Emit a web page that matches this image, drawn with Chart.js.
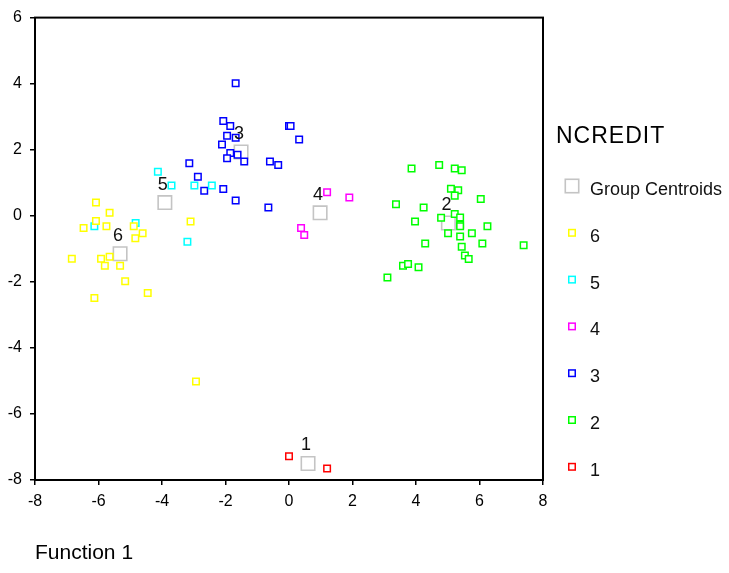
<!DOCTYPE html>
<html>
<head>
<meta charset="utf-8">
<script src="https://cdn.jsdelivr.net/npm/chart.js@4"></script>
<style>
  body { margin: 0; background: #fff; }
</style>
</head>
<body>
<canvas id="chart" width="729" height="573"></canvas>
<script>
// discriminant scores per NCREDIT group: [function 1, function 2]
const group6 = [[-6.08, 0.40], [-5.65, 0.09], [-6.08, -0.16], [-6.47, -0.37], [-5.75, -0.32], [-4.89, -0.32],
  [-4.61, -0.53], [-4.84, -0.68], [-3.10, -0.17], [-6.84, -1.30], [-5.92, -1.30], [-5.65, -1.24],
  [-5.80, -1.51], [-5.32, -1.51], [-5.16, -1.98], [-4.45, -2.34], [-6.13, -2.49], [-2.93, -5.02]];
const group5 = [[-4.13, 1.33], [-3.70, 0.92], [-2.98, 0.92], [-2.43, 0.92], [-4.83, -0.22], [-6.13, -0.32], [-3.20, -0.79]];
const group4 = [[1.20, 0.71], [1.90, 0.55], [0.38, -0.37], [0.48, -0.58]];
const group3 = [[-1.68, 4.01], [-2.07, 2.87], [-1.85, 2.72], [-1.95, 2.42], [-1.68, 2.36], [-2.11, 2.16],
  [-1.85, 1.90], [-1.62, 1.85], [-1.95, 1.74], [-1.41, 1.64], [0.00, 2.72], [0.05, 2.72], [-0.60, 1.64],
  [-0.34, 1.54], [-3.14, 1.59], [-2.87, 1.18], [-2.67, 0.76], [-2.07, 0.81], [-1.68, 0.46], [-0.65, 0.25], [0.32, 2.31]];
const group2 = [[3.86, 1.43], [4.73, 1.54], [5.22, 1.43], [5.44, 1.38], [5.10, 0.82], [5.33, 0.77], [5.22, 0.61],
  [6.04, 0.51], [3.37, 0.35], [4.24, 0.25], [3.97, -0.17], [4.79, -0.06], [5.22, 0.05], [5.39, -0.05],
  [5.39, -0.27], [5.39, -0.32], [6.25, -0.32], [5.01, -0.53], [5.76, -0.53], [5.39, -0.63], [4.29, -0.84],
  [6.09, -0.84], [7.39, -0.89], [5.44, -0.94], [5.54, -1.20], [5.66, -1.31], [3.59, -1.51], [3.75, -1.46],
  [4.08, -1.56], [3.10, -1.87]];
const group1 = [[0.00, -7.28], [1.20, -7.65]];

const centroidLabels = ["1", "2", "3", "4", "5", "6"];
const centroidX = [0.60, 5.02, -1.51, 0.98, -3.91, -5.32];
const centroidY = [-7.50, -0.22, 1.93, 0.09, 0.40, -1.15];

const groupNames = ["6", "5", "4", "3", "2", "1"];
const groupColors = ["#ffff00", "#00ffff", "#ff00ff", "#0000ff", "#00ff00", "#ff0000"];
const groupPoints = [group6, group5, group4, group3, group2, group1];

const FONT = "'Liberation Sans', Arial, sans-serif";

const toXY = pts => pts.map(p => ({x: p[0], y: p[1]}));

const datasets = [{
    label: "Group Centroids",
    data: centroidX.map((x, i) => ({x: x, y: centroidY[i], tag: centroidLabels[i]})),
    borderColor: "#c4c4c4",
    backgroundColor: "#ffffff",
    pointStyle: "rect",
    pointRadius: 9.5,
    borderWidth: 1.6,
    order: 1
}];
groupNames.forEach((name, i) => {
    datasets.push({
        label: name,
        data: toXY(groupPoints[i]),
        borderColor: groupColors[i],
        backgroundColor: "#ffffff",
        pointStyle: "rect",
        pointRadius: 4.6,
        borderWidth: 1.5,
        order: 0
    });
});

// box round the plot area
const frame = {
    id: "frame",
    afterDatasetsDraw(chart) {
        const {ctx, chartArea: a} = chart;
        ctx.save();
        ctx.strokeStyle = "#000";
        ctx.lineWidth = 2;
        ctx.strokeRect(a.left, a.top, a.right - a.left, a.bottom - a.top);
        ctx.restore();
    }
};

// number over each centroid
const centroidTags = {
    id: "centroidTags",
    afterDatasetsDraw(chart) {
        const ctx = chart.ctx;
        const meta = chart.getDatasetMeta(0);
        ctx.save();
        ctx.font = "18px " + FONT;
        ctx.fillStyle = "#111";
        ctx.textAlign = "center";
        ctx.textBaseline = "middle";
        meta.data.forEach((pt, i) => {
            ctx.fillText(chart.data.datasets[0].data[i].tag, pt.x - 2, pt.y - 18);
        });
        ctx.restore();
    }
};

// SPSS style legend on the right
const sideLegend = {
    id: "sideLegend",
    afterDraw(chart) {
        const ctx = chart.ctx;
        const left = chart.chartArea.right;
        ctx.save();
        ctx.fillStyle = "#000";
        ctx.textAlign = "left";
        ctx.textBaseline = "middle";
        ctx.font = "23px " + FONT;
        ctx.letterSpacing = "1px";
        ctx.fillText("NCREDIT", left + 13, 137);
        ctx.letterSpacing = "0px";
        ctx.font = "18px " + FONT;
        chart.data.datasets.forEach((ds, i) => {
            const cy = 186 + i * 46.8;
            const cx = left + 29;
            const s = ds.pointRadius * Math.SQRT2;
            ctx.lineWidth = ds.borderWidth;
            ctx.strokeStyle = ds.borderColor;
            ctx.fillStyle = "#fff";
            ctx.fillRect(cx - s / 2, cy - s / 2, s, s);
            ctx.strokeRect(cx - s / 2, cy - s / 2, s, s);
            ctx.fillStyle = "#111";
            ctx.fillText(ds.label, left + 47, cy + 4);
        });
        ctx.restore();
    }
};

new Chart(document.getElementById("chart"), {
    type: "scatter",
    data: {datasets: datasets},
    plugins: [frame, centroidTags, sideLegend],
    options: {
        responsive: false,
        animation: false,
        layout: {padding: {top: 12, right: 186, bottom: 0, left: 0}},
        plugins: {
            legend: {display: false},
            tooltip: {enabled: false}
        },
        scales: {
            x: {
                type: "linear",
                min: -8,
                max: 8,
                afterFit: s => { s.height = 93; },
                border: {display: false},
                grid: {drawOnChartArea: false, tickLength: 5, color: "#000", lineWidth: 1.5},
                ticks: {stepSize: 2, color: "#000", padding: 7, font: {family: FONT, size: 16}},
                title: {
                    display: true,
                    text: "Function 1",
                    align: "start",
                    color: "#000",
                    font: {family: FONT, size: 21},
                    padding: {top: 0, bottom: 7}
                }
            },
            y: {
                type: "linear",
                min: -8,
                max: 6,
                afterFit: s => { s.width = 35; },
                border: {display: false},
                grid: {drawOnChartArea: false, tickLength: 5, color: "#000", lineWidth: 1.5},
                ticks: {stepSize: 2, color: "#000", padding: 8, font: {family: FONT, size: 16}}
            }
        }
    }
});
</script>
</body>
</html>
